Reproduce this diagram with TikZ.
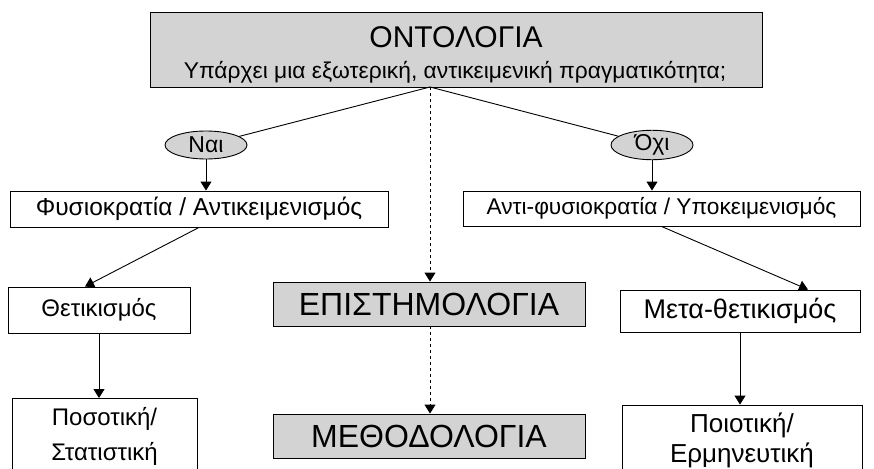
\documentclass[tikz,border=0pt]{standalone}
\usepackage{fontspec}
\setmainfont{Liberation Sans}
\usetikzlibrary{shapes.geometric, arrows.meta, positioning}
\definecolor{boxgrey}{RGB}{211,211,211}

\begin{document}
\begin{tikzpicture}[
    x=1pt, y=-1pt,
    greybox/.style={rectangle, draw, fill=boxgrey, inner sep=0pt, line width=0.9pt, align=center, font=\fontsize{32}{34}\selectfont},
    whitebox/.style={rectangle, draw, fill=white, inner sep=0pt, line width=0.9pt, align=center, font=\fontsize{24}{35}\selectfont},
    answer/.style={ellipse, draw, fill=boxgrey, minimum width=82pt, minimum height=28pt, inner sep=0pt, line width=0.9pt, font=\fontsize{23}{24}\selectfont},
    arrow/.style={-{Triangle[width=11pt,length=9pt]}, line width=0.9pt},
    dasharrow/.style={arrow, dashed}
]
    \useasboundingbox (0,0) rectangle (874,468);

    % Ontology (top)
    \node[greybox, minimum width=612pt, minimum height=75pt] (onto) at (456,49.5) {};
    \node[anchor=base, font=\fontsize{30}{32}\selectfont] (ontotitle) at (456,48) {ΟΝΤΟΛΟΓΙΑ};
    \node[anchor=base, font=\fontsize{22.8}{24}\selectfont] (ontoq) at (455,79) {Υπάρχει μια εξωτερική, αντικειμενική πραγματικότητα;};
    \coordinate (apex) at (430,87);

    % Answers
    \node[answer] (nai) at (206,145) {Ναι};
    \node[answer] (ochi) at (652,145) {Όχι};

    % Left branch
    \node[whitebox, minimum width=378pt, minimum height=36pt, font=\fontsize{24.5}{28}\selectfont] (fysi) at (199,209) {Φυσιοκρατία / Αντικειμενισμός};
    \node[whitebox, minimum width=182pt, minimum height=46pt] (thet) at (99,310) {Θετικισμός};
    \node[whitebox, minimum width=185pt, minimum height=75pt] (poso) at (104.5,436) {Ποσοτική/\\Στατιστική};

    % Centre column
    \node[greybox, minimum width=312pt, minimum height=44pt] (epist) at (429,304) {ΕΠΙΣΤΗΜΟΛΟΓΙΑ};
    \node[greybox, minimum width=312pt, minimum height=44pt] (meth) at (429,436) {ΜΕΘΟΔΟΛΟΓΙΑ};

    % Right branch
    \node[whitebox, minimum width=397pt, minimum height=35pt, font=\fontsize{22.7}{26}\selectfont] (antifysi) at (661.5,208.5) {Αντι-φυσιοκρατία / Υποκειμενισμός};
    \node[whitebox, minimum width=240pt, minimum height=42pt, font=\fontsize{27}{30}\selectfont] (meta) at (740,311) {Μετα-θετικισμός};
    \node[whitebox, minimum width=240pt, minimum height=70pt, font=\fontsize{26}{30}\selectfont] (poio) at (742,440) {Ποιοτική/\\Ερμηνευτική};

    % Connectors
    \draw[line width=0.9pt] (apex) -- (nai);
    \draw[line width=0.9pt] (apex) -- (ochi);
    \draw[arrow] (nai.south) -- (nai.south |- fysi.north);
    \draw[arrow] (ochi.south) -- (ochi.south |- antifysi.north);
    \draw[arrow] (fysi.south) -- ([xshift=-14pt]thet.north);
    \draw[arrow] (antifysi.south) -- ([xshift=68pt]meta.north);
    \draw[arrow] (thet.south) -- (thet.south |- poso.north);
    \draw[arrow] (meta.south) -- (meta.south |- poio.north);
    \draw[dasharrow] (apex) -- (apex |- epist.north);
    \draw[dasharrow] (apex |- epist.south) -- (apex |- meth.north);
\end{tikzpicture}
\end{document}
